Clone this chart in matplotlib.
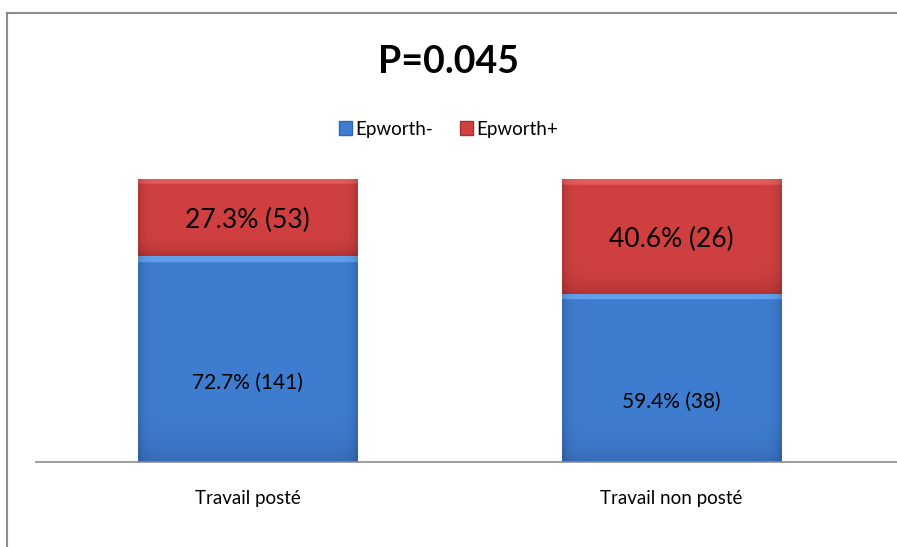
import numpy as np
import matplotlib.pyplot as plt
from matplotlib.colors import LinearSegmentedColormap
from matplotlib.lines import Line2D
from matplotlib.patches import Rectangle

plt.rcParams['font.family'] = ['Lato', 'DejaVu Sans']

# données
categories = ['Travail posté', 'Travail non posté']
pct_neg = [72.7, 59.4]
n_neg = [141, 38]
pct_pos = [27.3, 40.6]
n_pos = [53, 26]
series_names = ['Epworth-', 'Epworth+']
p_value = 'P=0.045'

blue_top, blue_mid, blue_bot = '#62A2EC', '#3F7DD0', '#3466B0'
red_top, red_mid, red_bot = '#E65A5A', '#D04040', '#A83030'


def shade_bar(ax, patch, top, mid, bot):
    # dégradé vertical + bords assombris, découpé sur la barre
    x0, y0 = patch.get_x(), patch.get_y()
    w, h = patch.get_width(), patch.get_height()
    cmap = LinearSegmentedColormap.from_list('g', [bot, mid, mid, top])
    ny, nx = 300, 100
    v = np.linspace(0, 1, ny)[:, None]
    vert = v ** 0.4 * 0.6 + np.where(v > 1 - 2.0 / h, 0.4, 0.0)
    img = cmap(np.repeat(vert, nx, axis=1))
    u = np.linspace(0, 1, nx)[None, :]
    edge = 1 - 0.15 * (np.exp(-u / 0.025) + np.exp(-(1 - u) / 0.025))
    img[..., :3] *= edge[..., None]
    im = ax.imshow(img, extent=[x0, x0 + w, y0, y0 + h], origin='lower',
                   aspect='auto', zorder=2, interpolation='bilinear')
    im.set_clip_path(patch)


fig = plt.figure(figsize=(8.97, 5.47), dpi=100)
ax = fig.add_axes([36 / 897, 1 - 462 / 547, 861 / 897, 283 / 547])

x = np.arange(len(categories))
width = 0.517
bars_neg = ax.bar(x, pct_neg, width, color=blue_mid, zorder=1)
bars_pos = ax.bar(x, pct_pos, width, bottom=pct_neg, color=red_mid, zorder=1)

for b in bars_neg:
    shade_bar(ax, b, blue_top, blue_mid, blue_bot)
for b in bars_pos:
    shade_bar(ax, b, red_top, red_mid, red_bot)

for i in range(len(categories)):
    ax.annotate(f'{pct_neg[i]}% ({n_neg[i]})', (x[i], pct_neg[i] / 2),
                xytext=(0, -24), textcoords='offset pixels',
                ha='center', va='center', fontsize=15, zorder=3)
    ax.annotate(f'{pct_pos[i]}% ({n_pos[i]})', (x[i], pct_neg[i] + pct_pos[i] / 2),
                xytext=(0, -3), textcoords='offset pixels',
                ha='center', va='center', fontsize=19, zorder=3)

ax.set_xlim(-0.499, 1.532)
ax.set_ylim(0, 100)
ax.set_yticks([])
ax.set_xticks(x)
ax.set_xticklabels(categories, fontsize=13.5)
ax.tick_params(axis='x', length=0, pad=20)
for s in ['top', 'right', 'left']:
    ax.spines[s].set_visible(False)
ax.spines['bottom'].set_color('#8C8C8C')
ax.spines['bottom'].set_linewidth(1.2)

fig.text(0.5, 1 - 62 / 547, p_value, ha='center', va='center',
         fontsize=27, fontweight='bold')

handles = [Rectangle((0, 0), 1, 1, facecolor=blue_mid, edgecolor=blue_bot),
           Rectangle((0, 0), 1, 1, facecolor=red_mid, edgecolor=red_bot)]
fig.legend(handles, series_names, loc='center', bbox_to_anchor=(0.5, 1 - 129 / 547),
           ncol=2, frameon=False, fontsize=13.5, handlelength=0.7, handleheight=0.7,
           handletextpad=0.2, columnspacing=1.4)

# cadre du graphique
fig.add_artist(Line2D([7 / 897, 7 / 897], [0, 1 - 13 / 547], color='#8C8C8C', lw=1.5))
fig.add_artist(Line2D([7 / 897, 1], [1 - 13 / 547, 1 - 13 / 547], color='#8C8C8C', lw=1.5))

fig.savefig('out.png', dpi=100)
